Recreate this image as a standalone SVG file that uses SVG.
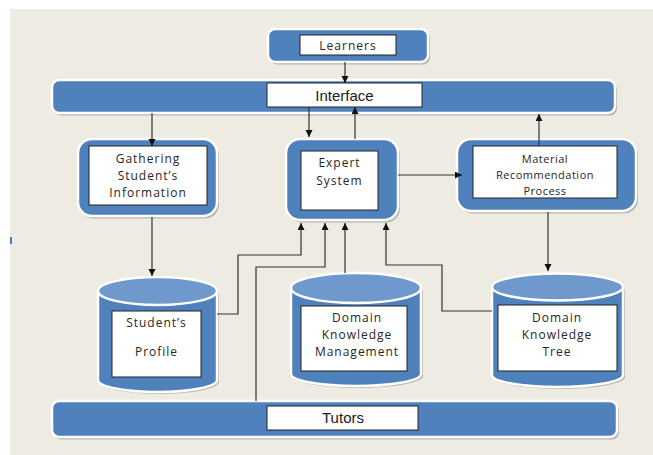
<svg xmlns="http://www.w3.org/2000/svg" width="653" height="455" viewBox="0 0 653 455">
<defs>
<marker id="arr" markerUnits="userSpaceOnUse" markerWidth="8" markerHeight="8" refX="7" refY="3.5" orient="auto">
<path d="M0,0 L7,3.5 L0,7 z" fill="#111"/>
</marker>
<style>
.shadow{fill:#8a8a8a;opacity:0.55}
.blue{fill:#4F81BD;stroke:#fff;stroke-width:2.5}
.top{fill:#6F99CD;stroke:#fff;stroke-width:2.5}
.inner{fill:#fff;stroke:#222;stroke-width:1}
.t{font-family:"Open Sans","DejaVu Sans",sans-serif;font-size:12px;letter-spacing:1px;fill:#262626;text-anchor:middle}
.ts{font-family:"Open Sans","DejaVu Sans",sans-serif;font-size:11px;letter-spacing:0.5px;fill:#262626;text-anchor:middle}
.ta{font-family:"Liberation Sans",Arial,sans-serif;font-size:15px;fill:#1a1a1a;text-anchor:middle}
.c{fill:none;stroke:#333;stroke-width:1.2}
</style>
</defs>
<rect x="10" y="9" width="643" height="446" fill="#EDEBE2"/>
<rect x="10" y="237" width="2" height="7" fill="#4A7CC0"/>

<g id="learners">
<rect class="shadow" x="270" y="31.5" width="160" height="33" rx="7"/>
<rect class="blue" x="268" y="29" width="160" height="33" rx="7"/>
<rect class="inner" x="300" y="35" width="96" height="20"/>
<text class="t" x="348" y="49.5">Learners</text>
</g>

<g id="interface">
<rect class="shadow" x="54" y="82.5" width="563" height="33" rx="7"/>
<rect class="blue" x="52" y="80" width="563" height="33" rx="7"/>
<rect class="inner" x="267" y="83" width="155" height="24"/>
<text class="ta" x="344.5" y="100.5">Interface</text>
</g>

<g id="gathering">
<rect class="shadow" x="80" y="141.5" width="139" height="77" rx="14"/>
<rect class="blue" x="78" y="139" width="139" height="77" rx="14"/>
<rect class="inner" x="89" y="146" width="118" height="59"/>
<text class="t" x="148" y="163">Gathering</text>
<text class="t" x="148" y="180">Student’s</text>
<text class="t" x="148" y="197">Information</text>
</g>

<g id="expert">
<rect class="shadow" x="288" y="141.5" width="112" height="81" rx="14"/>
<rect class="blue" x="286" y="139" width="112" height="81" rx="14"/>
<rect class="inner" x="301" y="151" width="77" height="59"/>
<text class="t" x="339.5" y="167">Expert</text>
<text class="t" x="339.5" y="185">System</text>
</g>

<g id="material">
<rect class="shadow" x="459" y="141.5" width="179" height="72" rx="14"/>
<rect class="blue" x="457" y="139" width="179" height="72" rx="14"/>
<rect class="inner" x="473" y="146" width="144" height="52"/>
<text class="ts" x="545" y="163">Material</text>
<text class="ts" x="545" y="179">Recommendation</text>
<text class="ts" x="545" y="195">Process</text>
</g>

<g id="profile">
<path class="shadow" d="M100,293 V382 A59.5,12 0 0 0 219,382 V293 z"/>
<path class="blue" d="M98,291 V380 A59.5,12 0 0 0 217,380 V291"/>
<ellipse class="top" cx="157.5" cy="291" rx="59.5" ry="14"/>
<rect class="inner" x="112" y="311" width="89" height="66"/>
<text class="t" x="156.5" y="327">Student’s</text>
<text class="t" x="156.5" y="356">Profile</text>
</g>

<g id="dkm">
<path class="shadow" d="M293,290 V376 A65,12 0 0 0 423,376 V290 z"/>
<path class="blue" d="M291,288 V374 A65,12 0 0 0 421,374 V288"/>
<ellipse class="top" cx="356" cy="288" rx="65" ry="15"/>
<rect class="inner" x="301" y="306" width="106" height="65"/>
<text class="t" x="357" y="322">Domain</text>
<text class="t" x="357" y="339">Knowledge</text>
<text class="t" x="357" y="356">Management</text>
</g>

<g id="dkt">
<path class="shadow" d="M494,289 V377 A65.5,12 0 0 0 625,377 V289 z"/>
<path class="blue" d="M492,287 V375 A65.5,12 0 0 0 623,375 V287"/>
<ellipse class="top" cx="557.5" cy="287" rx="65.5" ry="13.5"/>
<rect class="inner" x="498" y="305" width="119" height="66"/>
<text class="t" x="557" y="322">Domain</text>
<text class="t" x="557" y="339">Knowledge</text>
<text class="t" x="557" y="356">Tree</text>
</g>

<g id="tutors">
<rect class="shadow" x="54" y="403.5" width="565" height="36" rx="7"/>
<rect class="blue" x="52" y="401" width="565" height="36" rx="7"/>
<rect class="inner" x="267" y="406" width="151" height="24"/>
<text class="ta" x="343" y="423">Tutors</text>
</g>

<g id="connectors">
<path class="c" d="M345,62 V83" marker-end="url(#arr)"/>
<path class="c" d="M152,113 V146" marker-end="url(#arr)"/>
<path class="c" d="M309,107 V137" marker-end="url(#arr)"/>
<path class="c" d="M355,139 V107" marker-end="url(#arr)"/>
<path class="c" d="M539,146 V114" marker-end="url(#arr)"/>
<path class="c" d="M398,175 H462" marker-end="url(#arr)"/>
<path class="c" d="M152,217 V276" marker-end="url(#arr)"/>
<path class="c" d="M548,212 V271" marker-end="url(#arr)"/>
<path class="c" d="M217,314 H238 V255 H301 V223" marker-end="url(#arr)"/>
<path class="c" d="M256,401 V267 H325 V223" marker-end="url(#arr)"/>
<path class="c" d="M345,273 V223" marker-end="url(#arr)"/>
<path class="c" d="M492,311 H442 V265 H386 V223" marker-end="url(#arr)"/>
</g>
</svg>
